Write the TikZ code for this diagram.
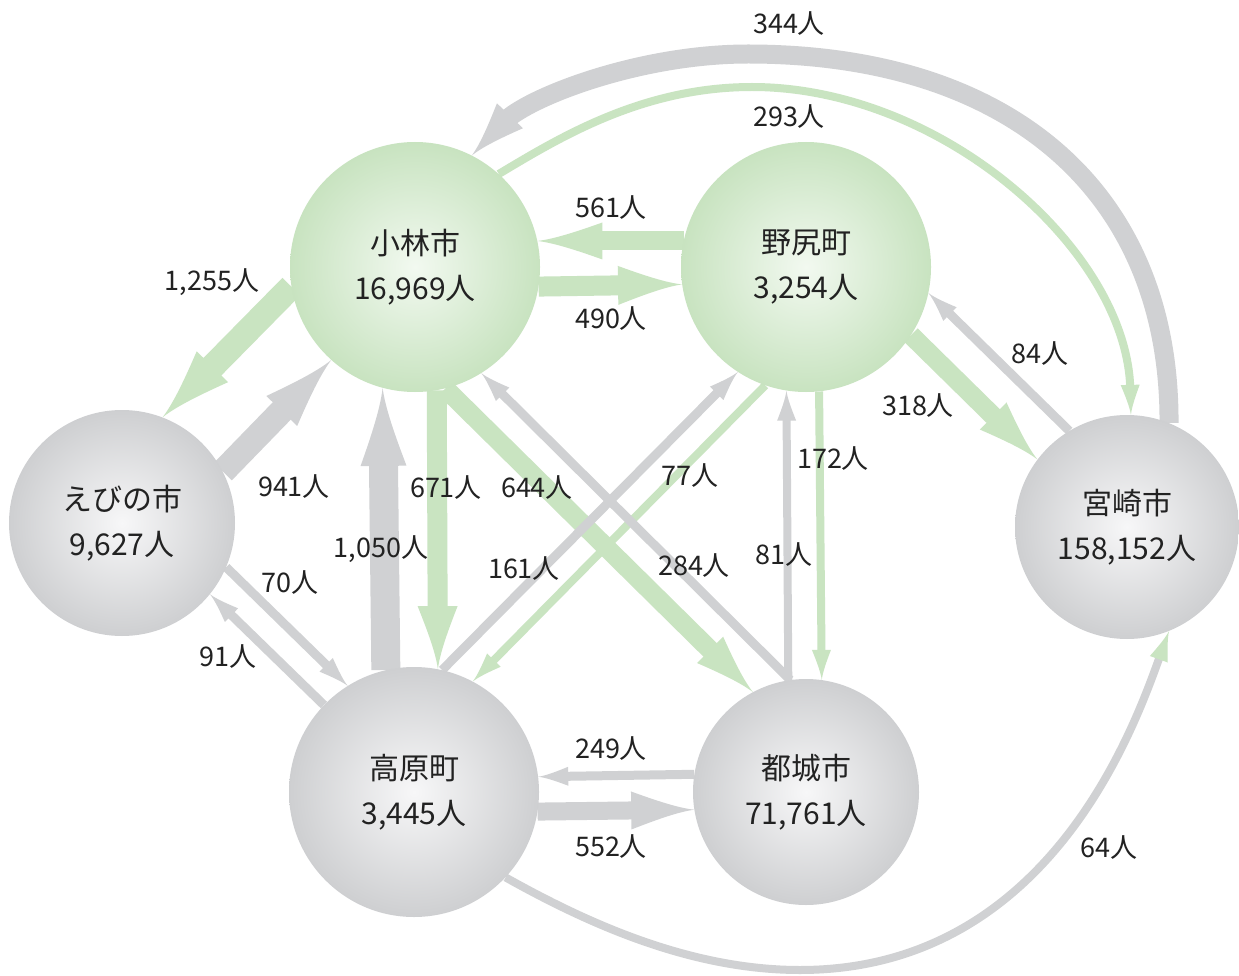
\documentclass[tikz,border=0pt]{standalone}
\usepackage{fontspec}
\setmainfont{Noto Sans CJK JP}
\newfontfamily\cjk{Noto Sans CJK JP}
\usetikzlibrary{arrows.meta,backgrounds}
\pgfdeclarearrow{
  name=Concave,
  parameters={\the\pgfarrowlength,\the\pgfarrowwidth},
  setup code={
    \pgfarrowssettipend{\pgfarrowlength}
    \pgfarrowssetbackend{0pt}
    \pgfarrowssetlineend{.15\pgfarrowlength}
    \pgfarrowssavethe\pgfarrowlength
    \pgfarrowssavethe\pgfarrowwidth
  },
  drawing code={
    \pgfpathmoveto{\pgfqpoint{\pgfarrowlength}{0pt}}
    \pgfpathcurveto{\pgfqpoint{.75\pgfarrowlength}{.05\pgfarrowwidth}}{\pgfqpoint{.4\pgfarrowlength}{.25\pgfarrowwidth}}{\pgfqpoint{0pt}{.5\pgfarrowwidth}}
    \pgfpathlineto{\pgfqpoint{0pt}{-.5\pgfarrowwidth}}
    \pgfpathcurveto{\pgfqpoint{.4\pgfarrowlength}{-.25\pgfarrowwidth}}{\pgfqpoint{.75\pgfarrowlength}{-.05\pgfarrowwidth}}{\pgfqpoint{\pgfarrowlength}{0pt}}
    \pgfpathclose
    \pgfusepathqfill
  },
  defaults={length=30pt,width=19pt}
}
\definecolor{grn}{RGB}{201,228,193}
\definecolor{gry}{RGB}{208,209,211}
\definecolor{gin}{RGB}{242,249,240}
\definecolor{gout}{RGB}{200,227,192}
\definecolor{yin}{RGB}{247,247,248}
\definecolor{yout}{RGB}{206,207,209}
\definecolor{txt}{RGB}{34,34,34}
\tikzset{
  town/.style={circle, inner sep=0pt, align=center, text=txt, font=\cjk\fontsize{30}{45}\selectfont},
  gtown/.style={town, inner color=gin, outer color=gout},
  ytown/.style={town, inner color=yin, outer color=yout},
  lbl/.style={inner sep=0pt, text=txt, font=\cjk\fontsize{27}{30}\selectfont},
  gf/.style={draw=grn, line width=#1},
  yf/.style={draw=gry, line width=#1},
  hs/.style={-{Concave[length=30pt,width=19pt]}},
  hb/.style 2 args={-{Concave[length=#1pt,width=#2pt]}}
}
\begin{document}
\begin{tikzpicture}[x=1pt,y=-1pt]
\useasboundingbox (0,0) rectangle (1239,976);
% towns
\node[gtown, minimum size=250pt] (K) at (415,267) {小林市\\16,969人};
\node[gtown, minimum size=250pt] (N) at (806,267) {野尻町\\3,254人};
\node[ytown, minimum size=226pt] (E) at (122,523) {えびの市\\9,627人};
\node[ytown, minimum size=224pt] (M) at (1127,527) {宮崎市\\158,152人};
\node[ytown, minimum size=250pt] (T) at (414,792) {高原町\\3,445人};
\node[ytown, minimum size=226pt] (Y) at (806,792) {都城市\\71,761人};
\begin{scope}[on background layer]
\fill[white] (0,0) rectangle (1239,976);
% green flows
\draw[gf=25pt, hb={71}{44}] (K.189.35) -- (E.69.4);
\draw[gf=20pt, hb={63}{40}] (K.280.1) -- (T.79.4);
\draw[gf=19pt, hb={60}{37}] (K.284.8) -- (Y.118.65);
\draw[gf=8pt, hs] (N.251.9) -- (T.62.45);
\draw[gf=8pt, hs] (N.276.9) -- (Y.82.4);
\draw[gf=19pt, hb={65}{37}] (N.168) -- (K.12);
\draw[gf=20pt, hb={64}{39}] (K.351.7) -- (N.188.3);
\draw[gf=19pt, hb={62}{38}] (N.327.1) -- (M.143.7);
\draw[gf=8pt, hs] (K.48.2) .. controls (559,138) and (642,87) .. (752,87)
  .. controls (941,87) and (1127,250) .. (M.88);
% gray flows
\draw[yf=25pt, hb={71}{43}] (E.27.9) -- (K.228.2);
\draw[yf=29pt, hb={78}{46}] (T.103.65) -- (K.255.9);
\draw[yf=9pt, hs] (E.337) -- (T.122.9);
\draw[yf=9pt, hs] (T.136.9) -- (E.321.1);
\draw[yf=9pt, hs] (Y.98.1) -- (K.302.6);
\draw[yf=9pt, hs] (T.77.9) -- (N.237.1);
\draw[yf=8pt, hs] (Y.99.2) -- (N.261.7);
\draw[yf=9pt, hs] (M.121.5) -- (N.348.7);
\draw[yf=9pt, hs] (Y.171.9) -- (T.7.35);
\draw[yf=18pt, hb={63}{38}] (T.351.3) -- (Y.189.7);
\draw[yf=19pt, hb={55}{36}] (M.68.5) .. controls (1170,192) and (1010,54) .. (748,54)
  .. controls (638,54) and (527,98) .. (K.63);
\draw[yf=8pt, -{Concave[length=30pt,width=19pt,color=grn]}] (T.317.6)
  .. controls (587,923) and (690,970) .. (800,970)
  .. controls (1050,970) and (1135,725) .. (M.292.3);
\end{scope}
% labels
\node[lbl] (l344) at (789,24) {344人};
\node[lbl] (l293) at (789,117) {293人};
\node[lbl] (l561) at (611,208) {561人};
\node[lbl] (l490) at (611,319) {490人};
\node[lbl] (l1255) at (212,282) {1,255人};
\node[lbl] (l941) at (294,487) {941人};
\node[lbl] (l671) at (446,488) {671人};
\node[lbl] (l644) at (537,488) {644人};
\node[lbl] (l77) at (690,476) {77人};
\node[lbl] (l172) at (833,459) {172人};
\node[lbl] (l318) at (918,406) {318人};
\node[lbl] (l84) at (1040,354) {84人};
\node[lbl] (l1050) at (381,549) {1,050人};
\node[lbl] (l161) at (524,569) {161人};
\node[lbl] (l284) at (694,566) {284人};
\node[lbl] (l81) at (784,555) {81人};
\node[lbl] (l70) at (290,583) {70人};
\node[lbl] (l91) at (228,657) {91人};
\node[lbl] (l249) at (611,749) {249人};
\node[lbl] (l552) at (611,847) {552人};
\node[lbl] (l64) at (1109,848) {64人};
\end{tikzpicture}
\end{document}
